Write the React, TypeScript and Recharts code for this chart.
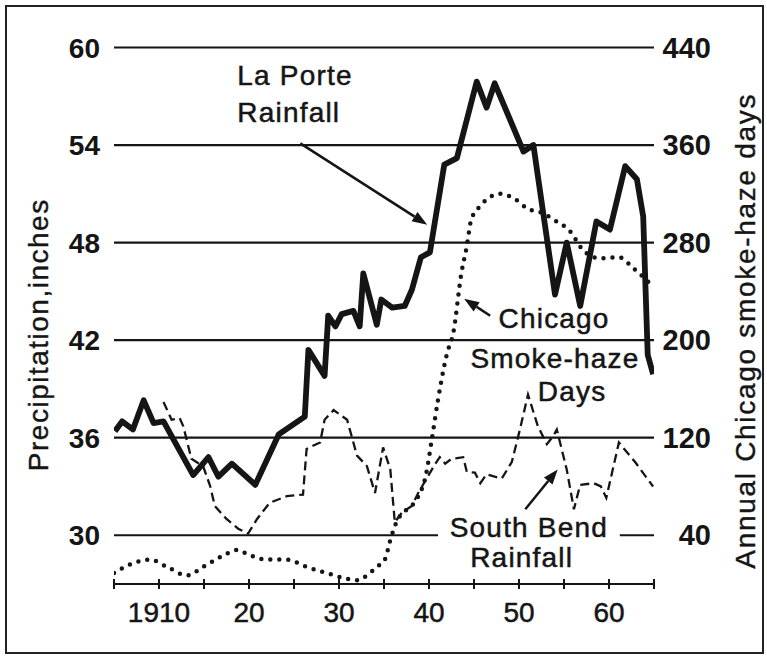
import React from 'react';
import { LineChart, Line, XAxis, YAxis, ReferenceLine, ReferenceDot } from 'recharts';

// ---- Data ----
const laPorteYears = [1905.1, 1905.9, 1907.1, 1908.3, 1909.4, 1910.5, 1913.8, 1915.5, 1916.6, 1918.1, 1920.7, 1923.3, 1926.2, 1926.6, 1928.4, 1928.8, 1929.6, 1930.3, 1931.6, 1932.3, 1932.7, 1934.2, 1934.7, 1935.9, 1937.3, 1938.1, 1939.1, 1940.1, 1941.7, 1943.1, 1945.3, 1946.4, 1947.3, 1950.5, 1951.6, 1954.0, 1955.3, 1956.8, 1958.6, 1960.1, 1961.8, 1963.1, 1963.8, 1964.3, 1964.9];
const laPorteInches = [36.4, 37.0, 36.5, 38.3, 36.9, 37.0, 33.7, 34.8, 33.6, 34.4, 33.1, 36.2, 37.3, 41.4, 39.8, 43.5, 42.85, 43.6, 43.8, 42.85, 46.1, 42.95, 44.5, 44.0, 44.1, 45.1, 47.1, 47.4, 52.8, 53.2, 57.9, 56.3, 57.8, 53.6, 54.0, 44.8, 48.0, 44.1, 49.3, 48.8, 52.7, 51.9, 49.6, 41.1, 39.9];

const southBendYears = [1910.5, 1911.4, 1912.3, 1912.7, 1913.6, 1914.9, 1915.7, 1916.2, 1917.5, 1918.8, 1919.9, 1920.9, 1922.3, 1924.2, 1926.0, 1926.4, 1927.1, 1927.9, 1928.4, 1929.4, 1930.9, 1932.0, 1933.1, 1934.0, 1934.9, 1935.7, 1936.2, 1937.0, 1938.1, 1938.8, 1940.7, 1941.2, 1941.8, 1942.5, 1943.8, 1944.2, 1945.1, 1945.7, 1946.4, 1947.3, 1948.1, 1949.2, 1950.1, 1951.0, 1952.1, 1953.1, 1953.8, 1954.2, 1955.3, 1956.1, 1956.8, 1958.3, 1959.1, 1959.7, 1961.1, 1962.9, 1964.9];
const southBendInches = [38.2, 37.1, 37.2, 36.7, 34.7, 34.25, 33.0, 31.8, 31.0, 30.4, 30.1, 31.0, 32.0, 32.4, 32.5, 35.3, 35.5, 35.7, 37.1, 37.7, 37.1, 34.9, 34.25, 32.6, 35.4, 34.05, 30.8, 31.4, 31.8, 32.6, 34.4, 34.8, 34.4, 34.7, 34.8, 33.9, 33.85, 33.2, 33.75, 33.6, 33.5, 34.5, 36.5, 38.65, 36.7, 35.6, 36.1, 36.5, 34.05, 31.6, 33.1, 33.2, 33.0, 32.3, 35.7, 34.5, 33.0];

const chicagoYears = [1905.0, 1906.8, 1909.0, 1910.9, 1913.1, 1914.9, 1916.8, 1918.8, 1919.7, 1922.0, 1924.2, 1926.4, 1928.6, 1930.5, 1932.0, 1933.1, 1934.2, 1935.1, 1935.7, 1936.4, 1937.5, 1938.6, 1939.7, 1940.3, 1941.0, 1942.0, 1942.7, 1943.6, 1944.2, 1944.7, 1945.7, 1947.9, 1949.7, 1950.9, 1952.7, 1953.8, 1955.7, 1957.1, 1959.0, 1961.1, 1962.7, 1964.2, 1965.0];
const chicagoDays = [9, 16, 20, 14, 7, 14, 22, 28, 25, 20, 20, 14, 9, 5, 3, 7, 14, 20, 36, 51, 61, 69, 91, 118, 151, 189, 206, 255, 277, 299, 310, 320, 315, 308, 304, 299, 289, 274, 267, 268, 259, 249, 243];

const xTicks = [1905, 1910, 1915, 1920, 1925, 1930, 1935, 1940, 1945, 1950, 1955, 1960, 1965];
const xTickLabels: Record<number, string> = { 1910: '1910', 1920: '20', 1930: '30', 1940: '40', 1950: '50', 1960: '60' };
const leftTicks = [30, 36, 42, 48, 54, 60];
const rightTicks = [40, 120, 200, 280, 360, 440];
const fullGridValues = [36, 42, 48, 54, 60];

const zip = (xs: number[], ys: number[]) => xs.map((year, i) => ({ year, v: ys[i] }));
const laPorteData = zip(laPorteYears, laPorteInches);
const southBendData = zip(southBendYears, southBendInches);
const chicagoData = zip(chicagoYears, chicagoDays);

const FONT = '"Liberation Sans", Arial, Helvetica, sans-serif';
const INK = '#151515';

const XTick = (props: any) => {
  const { x, y, payload } = props;
  const label = xTickLabels[payload.value];
  return (
    <g>
      <line x1={x} x2={x} y1={y - 5} y2={y + 5} stroke={INK} strokeWidth={2} />
      {label ? (
        <text x={x} y={y + 38} textAnchor="middle" fontSize={28} fontFamily={FONT} fill={INK} stroke={INK} strokeWidth={0.5}>
          {label}
        </text>
      ) : null}
    </g>
  );
};

const LeftTick = (props: any) => {
  const { x, y, payload } = props;
  return (
    <text x={x - 14} y={y + 10} textAnchor="end" fontSize={28} fontWeight="bold" fontFamily={FONT} fill={INK}>
      {payload.value}
    </text>
  );
};

const RightTick = (props: any) => {
  const { x, y, payload } = props;
  return (
    <text x={x + 57} y={y + 10} textAnchor="end" fontSize={29} fontWeight="bold" fontFamily={FONT} fill={INK}>
      {payload.value}
    </text>
  );
};

const LeftTitle = (props: any) => {
  const vb = props.viewBox || { x: 54, y: 47.5, width: 60, height: 536.5 };
  const cx = vb.x + vb.width - 76;
  const cy = vb.y + vb.height / 2 + 19;
  return (
    <text
      x={cx}
      y={cy}
      transform={`rotate(-90 ${cx} ${cy})`}
      textAnchor="middle"
      dominantBaseline="central"
      fontSize={28}
      letterSpacing={1.5}
      fontFamily={FONT}
      fill={INK}
      stroke={INK}
      strokeWidth={0.4}
    >
      Precipitation,inches
    </text>
  );
};

const RightTitle = (props: any) => {
  const vb = props.viewBox || { x: 654, y: 47.5, width: 60, height: 536.5 };
  const cx = vb.x + 91;
  const cy = vb.y + vb.height / 2 + 15;
  return (
    <text
      x={cx}
      y={cy}
      transform={`rotate(-90 ${cx} ${cy})`}
      textAnchor="middle"
      dominantBaseline="central"
      fontSize={28}
      letterSpacing={1.7}
      fontFamily={FONT}
      fill={INK}
      stroke={INK}
      strokeWidth={0.4}
    >
      Annual Chicago smoke-haze days
    </text>
  );
};

const makeText = (text: string, anchor: 'start' | 'middle' | 'end') => (props: any) => {
  const { cx, cy } = props;
  return (
    <text
      x={cx}
      y={cy}
      textAnchor={anchor}
      fontSize={28}
      letterSpacing={1.2}
      fontFamily={FONT}
      fill={INK}
      stroke={INK}
      strokeWidth={0.5}
    >
      {text}
    </text>
  );
};

const Arrow = (props: any) => {
  const { x1, y1, x2, y2 } = props;
  const ang = Math.atan2(y2 - y1, x2 - x1);
  const len = 15;
  const half = 5.5;
  const bx = x2 - len * Math.cos(ang);
  const by = y2 - len * Math.sin(ang);
  const px = -Math.sin(ang) * half;
  const py = Math.cos(ang) * half;
  return (
    <g>
      <line x1={x1} y1={y1} x2={bx} y2={by} stroke={INK} strokeWidth={2.5} />
      <polygon points={`${x2},${y2} ${bx + px},${by + py} ${bx - px},${by - py}`} fill={INK} />
    </g>
  );
};

export default function App() {
  return (
    <div style={{ position: 'absolute', left: 0, top: 0, width: 767, height: 656, background: '#fff' }}>
      <div
        style={{
          position: 'absolute',
          left: 5,
          top: 5,
          width: 755,
          height: 645,
          border: '2px solid #222',
        }}
      />
      <div style={{ position: 'absolute', left: 0, top: 0 }}>
        <LineChart width={767} height={656} margin={{ top: 47.5, right: 53, bottom: 12, left: 54 }}>
          <XAxis
            dataKey="year"
            type="number"
            domain={[1905, 1965]}
            ticks={xTicks}
            interval={0}
            allowDataOverflow
            height={60}
            tickSize={0}
            tickMargin={0}
            tickLine={false}
            axisLine={{ stroke: INK, strokeWidth: 2.2 }}
            tick={<XTick />}
          />
          <YAxis
            yAxisId="left"
            orientation="left"
            type="number"
            domain={[27, 60]}
            ticks={leftTicks}
            interval={0}
            allowDataOverflow
            width={60}
            tickSize={0}
            tickMargin={0}
            tickLine={false}
            axisLine={false}
            tick={<LeftTick />}
            label={{ content: (p: any) => <LeftTitle {...p} /> }}
          />
          <YAxis
            yAxisId="right"
            orientation="right"
            type="number"
            domain={[0, 440]}
            ticks={rightTicks}
            interval={0}
            allowDataOverflow
            width={60}
            tickSize={0}
            tickMargin={0}
            tickLine={false}
            axisLine={false}
            tick={<RightTick />}
            label={{ content: (p: any) => <RightTitle {...p} /> }}
          />

          {fullGridValues.map((v) => (
            <ReferenceLine key={v} yAxisId="left" y={v} stroke={INK} strokeWidth={2.2} />
          ))}
          <ReferenceLine
            yAxisId="left"
            segment={[{ x: 1905, y: 30 }, { x: 1941, y: 30 }]}
            stroke={INK}
            strokeWidth={2.2}
          />
          <ReferenceLine
            yAxisId="left"
            segment={[{ x: 1961.2, y: 30 }, { x: 1965, y: 30 }]}
            stroke={INK}
            strokeWidth={2.2}
          />

          <Line
            yAxisId="right"
            data={chicagoData}
            dataKey="v"
            type="monotone"
            stroke={INK}
            strokeWidth={4.5}
            strokeDasharray="0 9"
            strokeLinecap="round"
            dot={false}
            activeDot={false}
            isAnimationActive={false}
          />
          <Line
            yAxisId="left"
            data={southBendData}
            dataKey="v"
            type="linear"
            stroke={INK}
            strokeWidth={2.3}
            strokeDasharray="9 5"
            dot={false}
            activeDot={false}
            isAnimationActive={false}
          />
          <Line
            yAxisId="left"
            data={laPorteData}
            dataKey="v"
            type="linear"
            stroke={INK}
            strokeWidth={5.8}
            strokeLinejoin="round"
            dot={false}
            activeDot={false}
            isAnimationActive={false}
          />

          <ReferenceLine
            yAxisId="left"
            segment={[{ x: 1925.7, y: 54.1 }, { x: 1939.8, y: 49.1 }]}
            shape={(p: any) => <Arrow {...p} />}
          />
          <ReferenceLine
            yAxisId="left"
            segment={[{ x: 1946.8, y: 43.5 }, { x: 1943.9, y: 44.55 }]}
            shape={(p: any) => <Arrow {...p} />}
          />
          <ReferenceLine
            yAxisId="left"
            segment={[{ x: 1950.7, y: 31.6 }, { x: 1954.3, y: 34.05 }]}
            shape={(p: any) => <Arrow {...p} />}
          />

          <ReferenceDot yAxisId="left" x={1918.7} y={57.7} r={0} shape={makeText('La Porte', 'start')} />
          <ReferenceDot yAxisId="left" x={1918.7} y={55.42} r={0} shape={makeText('Rainfall', 'start')} />
          <ReferenceDot yAxisId="left" x={1953.9} y={42.77} r={0} shape={makeText('Chicago', 'middle')} />
          <ReferenceDot yAxisId="left" x={1954.0} y={40.31} r={0} shape={makeText('Smoke-haze', 'middle')} />
          <ReferenceDot yAxisId="left" x={1955.9} y={38.24} r={0} shape={makeText('Days', 'middle')} />
          <ReferenceDot yAxisId="left" x={1951.1} y={29.87} r={0} shape={makeText('South Bend', 'middle')} />
          <ReferenceDot yAxisId="left" x={1950.3} y={28.03} r={0} shape={makeText('Rainfall', 'middle')} />
        </LineChart>
      </div>
    </div>
  );
}
